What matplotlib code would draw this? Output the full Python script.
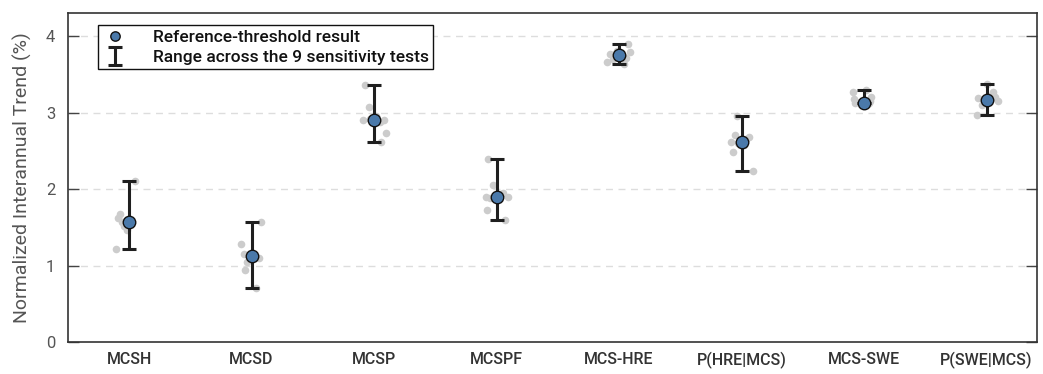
import matplotlib
matplotlib.use('Agg')
import matplotlib.pyplot as plt
import numpy as np

plt.rcParams['font.family'] = ['Roboto', 'DejaVu Sans']

categories = ['MCSH', 'MCSD', 'MCSP', 'MCSPF', 'MCS-HRE', 'P(HRE|MCS)', 'MCS-SWE', 'P(SWE|MCS)']

# reference-threshold result per metric
ref_values = [1.57, 1.12, 2.90, 1.90, 3.76, 2.62, 3.13, 3.17]

# the 9 sensitivity tests per metric
sens_values = [
    [2.11, 1.68, 1.62, 1.57, 1.52, 1.47, 1.21, 1.55, 1.60],
    [1.57, 1.28, 1.15, 0.94, 0.71, 1.12, 1.05, 1.10, 1.14],
    [3.36, 3.08, 2.90, 2.90, 2.74, 2.62, 2.95, 2.92, 2.88],
    [2.39, 2.05, 1.90, 1.90, 1.72, 1.59, 1.93, 1.88, 1.95],
    [3.90, 3.66, 3.79, 3.77, 3.64, 3.70, 3.72, 3.80, 3.74],
    [2.95, 2.71, 2.62, 2.49, 2.24, 2.65, 2.60, 2.58, 2.68],
    [3.27, 3.30, 3.12, 3.12, 3.18, 3.15, 3.14, 3.20, 3.13],
    [3.37, 2.97, 3.19, 3.15, 3.27, 3.10, 3.20, 3.22, 3.16],
]

# horizontal jitter of the grey dots (category units)
jitter = [
    [0.05, -0.07, -0.09, -0.06, -0.04, -0.02, -0.11, 0.02, -0.02],
    [0.08, -0.09, -0.06, -0.05, 0.04, 0.03, -0.04, 0.06, -0.02],
    [-0.07, -0.04, -0.09, 0.08, 0.10, 0.06, 0.02, -0.03, 0.05],
    [-0.07, -0.03, -0.09, 0.09, -0.08, 0.07, 0.03, -0.05, 0.05],
    [0.07, -0.10, 0.09, -0.07, 0.04, -0.05, 0.06, -0.02, 0.02],
    [-0.04, -0.05, -0.09, -0.07, 0.09, 0.04, -0.03, 0.02, 0.06],
    [-0.09, 0.02, -0.07, 0.04, -0.08, 0.05, -0.03, 0.06, 0.00],
    [0.00, -0.08, -0.07, 0.09, 0.05, -0.04, 0.07, 0.03, -0.02],
]

x = np.arange(len(categories))
lo = [r - min(s) for r, s in zip(ref_values, sens_values)]
hi = [max(s) - r for r, s in zip(ref_values, sens_values)]

fig = plt.figure(figsize=(10.43, 3.74), dpi=100)
ax = fig.add_axes([0.065, 0.0856, 0.929, 0.879])

for i in range(len(categories)):
    ax.plot(x[i] + np.array(jitter[i]), sens_values[i], 'o', color='#cccccc',
            markersize=5.5, markeredgewidth=0, zorder=2)

ax.errorbar(x, ref_values, yerr=[lo, hi], fmt='none', ecolor='#1f1f1f',
            elinewidth=2.2, capsize=5, capthick=2.2, zorder=3,
            label='Range across the 9 sensitivity tests')
ax.plot(x, ref_values, 'o', color='#4a79aa', markeredgecolor='#111111',
        markeredgewidth=1.0, markersize=9, zorder=4, label='Reference-threshold result')

for yv in [1, 2, 3, 4]:
    ax.axhline(yv, color='#dddddd', linestyle=(0, (5, 4)), linewidth=1.0, zorder=1)

ax.set_xlim(-0.5, 7.41)
ax.set_ylim(0, 4.3)
ax.set_yticks([0, 1, 2, 3, 4])
ax.set_xticks(x)
ax.set_xticklabels(categories, fontsize=11.5, color='#333333', fontweight='medium')
ax.tick_params(axis='x', length=0, pad=7)
ax.tick_params(axis='y', direction='in', length=8, width=1.0, right=True,
               labelsize=12, colors='#444444', labelcolor='#555555', pad=9)
ax.set_ylabel('Normalized Interannual Trend (%)', fontsize=14, color='#555555', labelpad=10)
for sp in ax.spines.values():
    sp.set_color('#333333')
    sp.set_linewidth(1.2)

leg = ax.legend(loc='upper left', bbox_to_anchor=(0.031, 0.963), borderaxespad=0,
                fancybox=False, edgecolor='#111111', framealpha=1,
                prop={'size': 12.5, 'weight': 'medium'}, markerscale=0.75,
                handlelength=1.5, handleheight=0.6, handletextpad=1.4,
                labelspacing=0.3, borderpad=0.25)
leg.get_frame().set_linewidth(1.0)
for t in leg.get_texts():
    t.set_color('#111111')

fig.savefig('out.png', dpi=100)
